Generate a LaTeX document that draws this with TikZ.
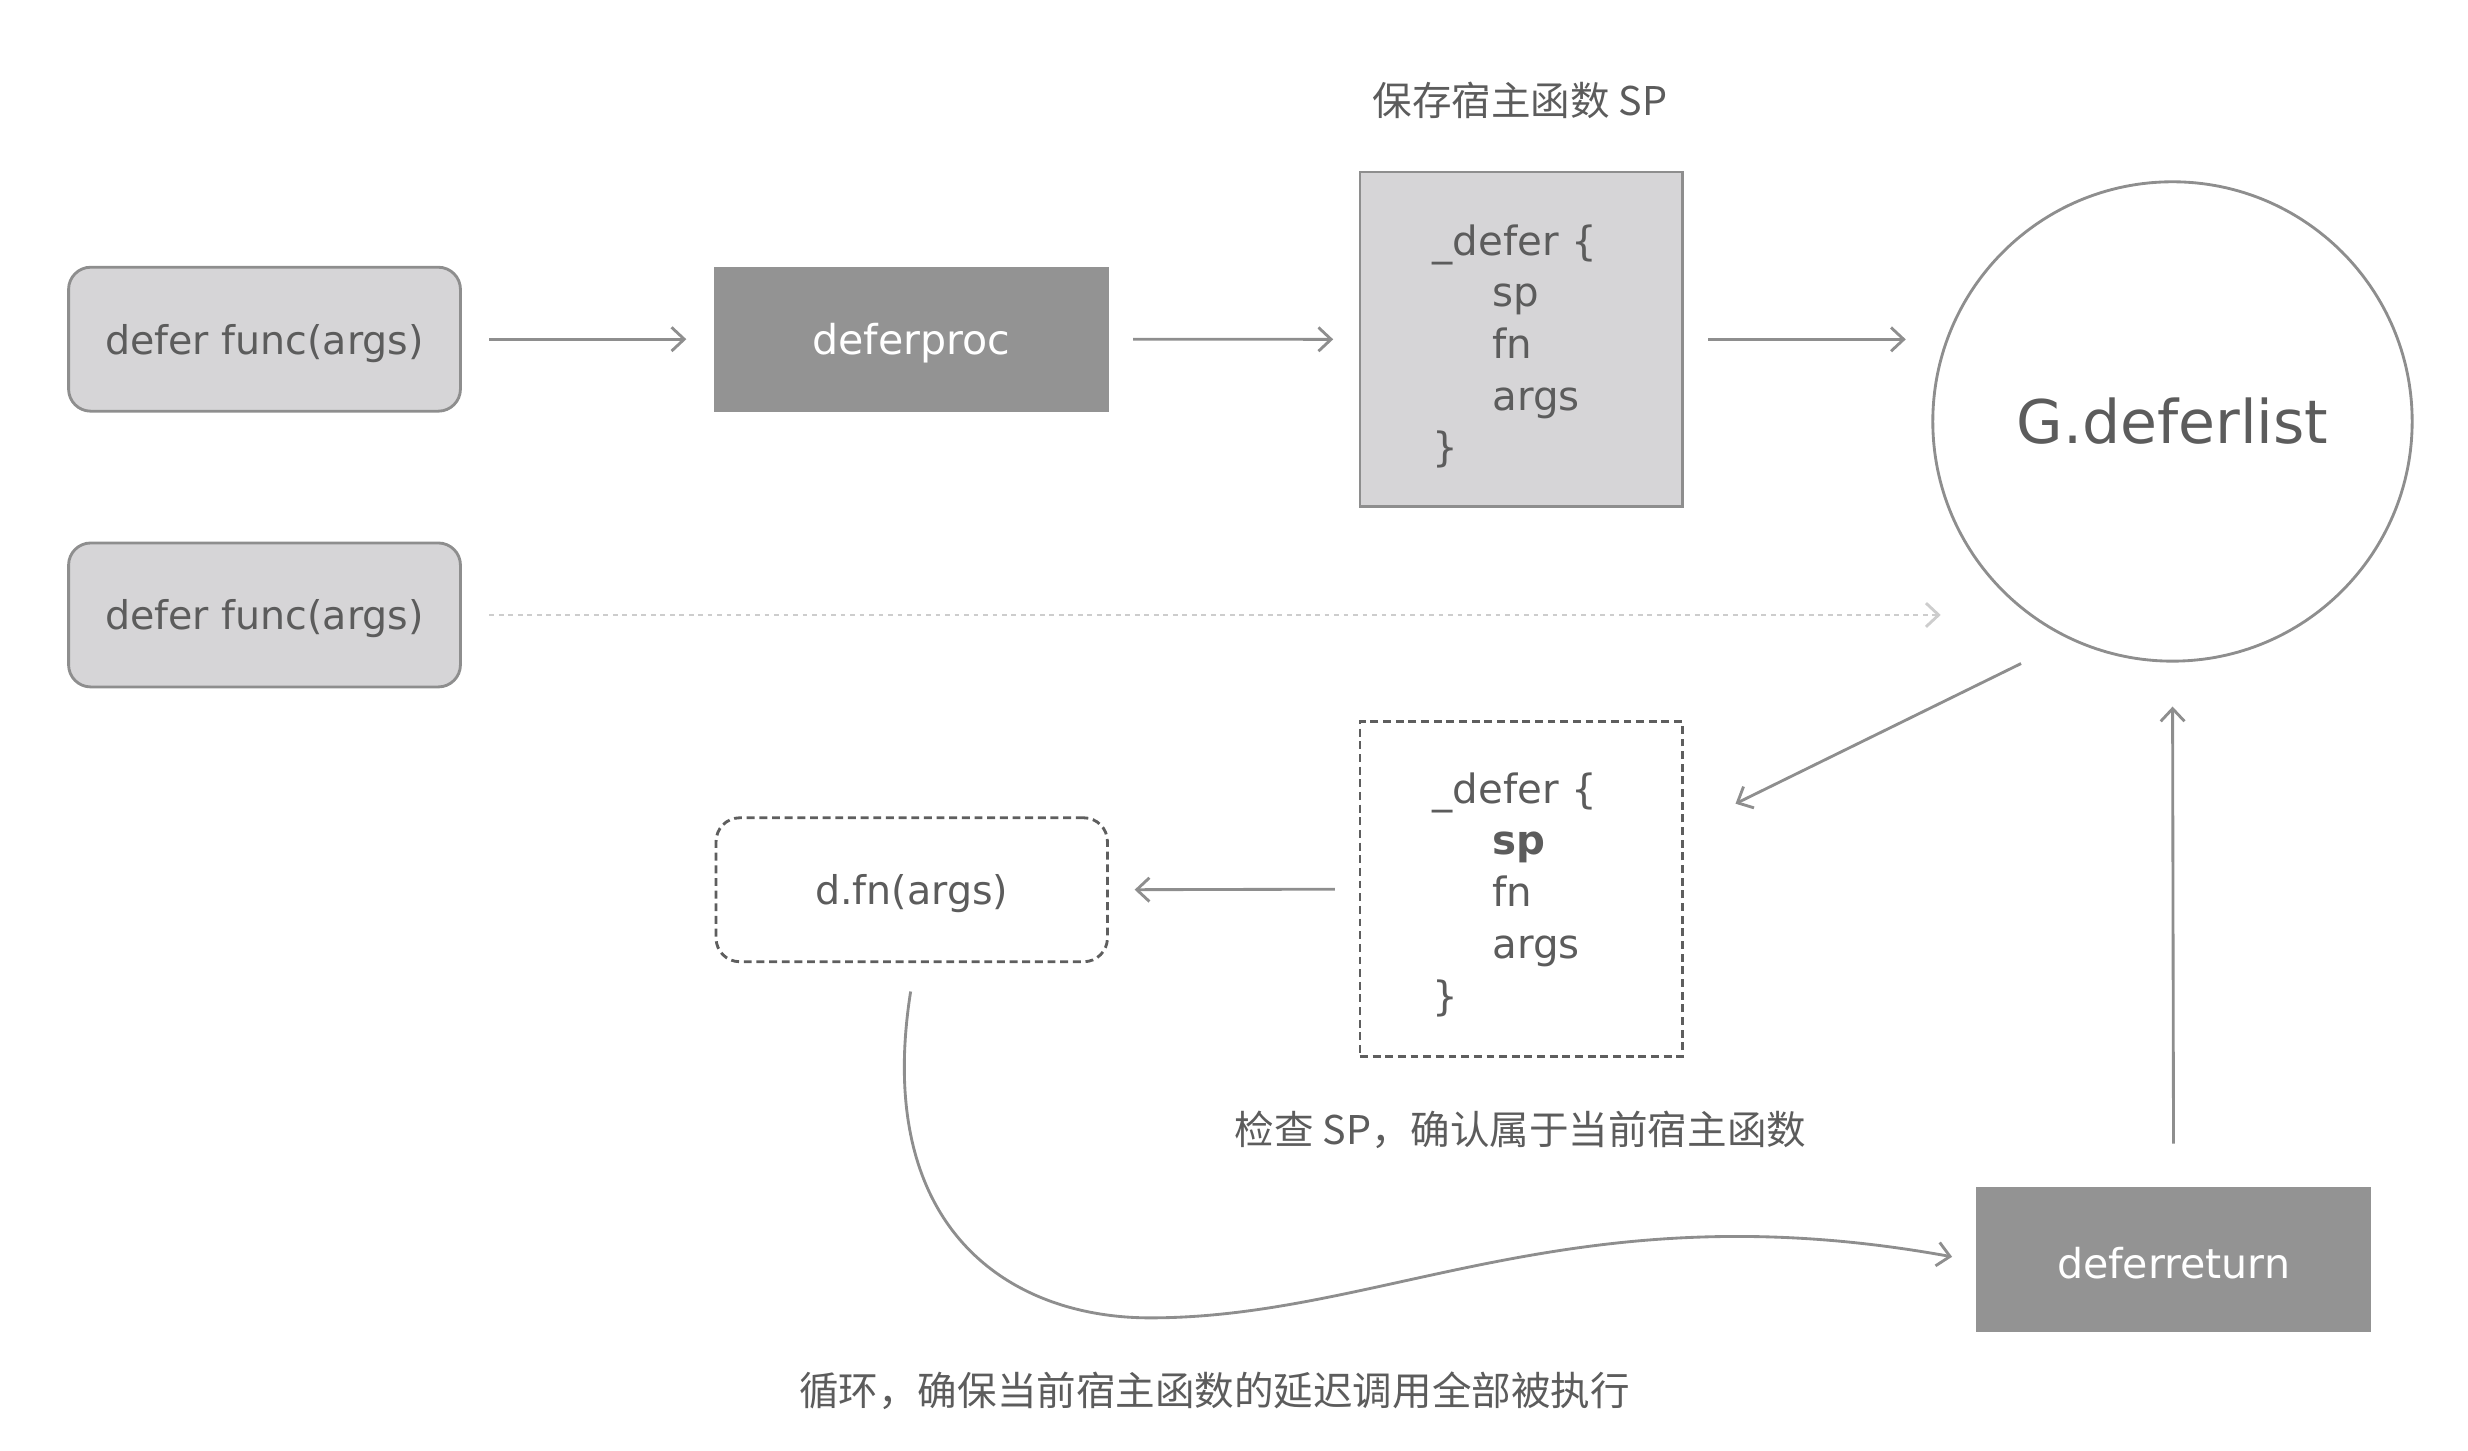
\documentclass[tikz,border=0pt]{standalone}
\usepackage{fontspec}
\setmainfont{DejaVu Sans}
\newfontfamily\cjk{Noto Sans CJK SC}
\usetikzlibrary{arrows.meta}
\definecolor{txt}{HTML}{5C5C5C}
\definecolor{ln}{HTML}{8E8E8E}
\definecolor{dk}{HTML}{5E5E5E}
\definecolor{lightbox}{HTML}{D6D5D7}
\definecolor{darkbox}{HTML}{939393}
\definecolor{dotc}{HTML}{CDCDCD}
\newcommand{\lowtext}[1]{\raisebox{-2.5pt}[\height][\depth]{#1}}
\tikzset{
  lbox/.style={draw=ln, fill=lightbox, line width=1.8pt, rounded corners=14pt,
    minimum width=247.7pt, minimum height=91pt, inner sep=0pt, text=txt,
    font=\fontsize{25}{30}\selectfont},
  dbox/.style={fill=darkbox, minimum width=250pt, minimum height=91.5pt, inner sep=0pt,
    text=white, font=\fontsize{26}{30}\selectfont},
  codebox/.style={minimum width=204pt, minimum height=211.6pt, inner sep=0pt, line width=1.8pt},
  codetext/.style={anchor=west, align=left, inner sep=0pt, text=txt,
    font=\fontsize{25.5}{32.7}\selectfont},
  dashbox/.style={draw=dk, line width=1.8pt, dash pattern=on 5pt off 3pt},
  lbl/.style={text=txt, inner sep=0pt, font=\cjk\fontsize{25}{30}\selectfont},
  arr/.style={draw=ln, line width=1.8pt,
    -{Straight Barb[length=8pt,width=15pt,line width=1.8pt]}},
}
\begin{document}
\begin{tikzpicture}[x=1pt,y=-1pt]
\useasboundingbox (0,0) rectangle (1560,916.6);
% nodes
\node[lbox] (f1) at (167.2,214.4) {\lowtext{defer func(args)}};
\node[lbox] (f2) at (167.2,388.7) {\lowtext{defer func(args)}};
\node[dbox] (proc) at (576,214.4) {\lowtext{deferproc}};
\node[codebox, draw=ln, fill=lightbox] (d1) at (961.6,214.5) {};
\node[codetext] (c1) at (905.4,219) {\_defer \{\\\hspace*{37.8pt}sp\\\hspace*{37.8pt}fn\\\hspace*{37.8pt}args\\\}};
\node[circle, draw=ln, line width=1.8pt, minimum size=303pt, inner sep=0pt, text=txt,
  font=\fontsize{38}{44}\selectfont] (G) at (1373.2,266.4) {G.deferlist};
\node[codebox, dashbox] (d2) at (961.6,562) {};
\node[codetext] (c2) at (905.4,565.5) {\_defer \{\\\hspace*{37.8pt}\textbf{sp}\\\hspace*{37.8pt}fn\\\hspace*{37.8pt}args\\\}};
\node[dashbox, rounded corners=15pt, minimum width=247.4pt, minimum height=91pt, inner sep=0pt,
  text=txt, font=\fontsize{25}{30}\selectfont] (fn) at (576.3,562.4) {\lowtext{d.fn(args)}};
\node[dbox] (ret) at (1373.9,796) {\lowtext{deferreturn}};
% labels
\node[lbl] (l1) at (960.8,63.5) {保存宿主函数 SP};
\node[lbl] (l2) at (961,714) {检查 SP，确认属于当前宿主函数};
\node[lbl] (l3) at (767.7,879) {循环，确保当前宿主函数的延迟调用全部被执行};
% coordinates
\coordinate (dotend) at (1226.7,388.7);
\coordinate (gout) at (1277.5,419.4);
\coordinate (gin) at (1097,508);
% connectors
\draw[arr, shorten <=17.4pt, shorten >=17pt] (f1.east) -- (proc.west);
\draw[arr, shorten <=15pt, shorten >=16pt] (proc.east) -- (d1.west);
\draw[arr, shorten <=15.4pt, shorten >=16.2pt] (d1.east) -- (d1.east -| G.west);
\draw[draw=dotc, line width=1.8pt, dash pattern=on 3pt off 3pt,
  -{Straight Barb[length=8pt,width=15pt,line width=1.8pt]}, shorten <=17.4pt] (f2.east) -- (dotend);
\draw[arr] (gout) -- (gin);
\draw[arr, shorten <=15pt, shorten >=16.3pt] (d2.west) -- (fn.east);
\draw[arr, shorten <=27.2pt, shorten >=27.8pt] (ret.north) -- (G.south);
\draw[arr] ([shift={(-0.7pt,-17.9pt)}]fn.south) .. controls (552,776) and (637,833) .. (727,833)
  .. controls (875,833) and (995,751) .. ([shift={(-14.8pt,1.6pt)}]ret.west);
\end{tikzpicture}
\end{document}
